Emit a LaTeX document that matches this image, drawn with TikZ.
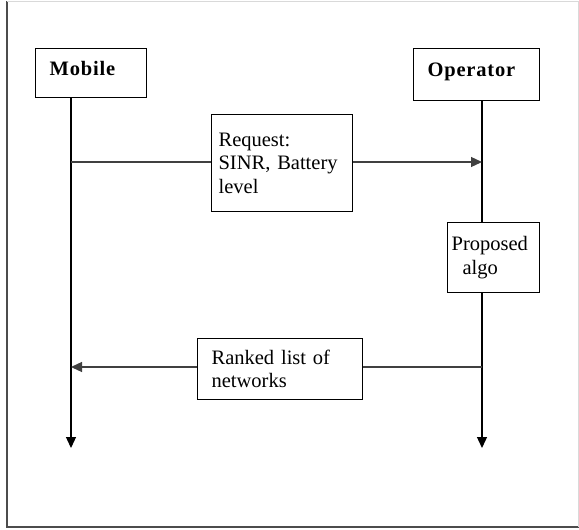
\documentclass[tikz,border=0pt]{standalone}
\usepackage{fontspec}
\setmainfont{Liberation Serif}
\usetikzlibrary{arrows.meta}
\tikzset{
  box/.style={draw,line width=1.2pt,fill=white,anchor=north west,align=left,
    inner ysep=0pt,font=\fontsize{20.5}{23.5}\selectfont},
  actor/.style={box,inner xsep=14pt,text height=14pt,text depth=10pt,
    font=\fontsize{20.5}{23.5}\selectfont\bfseries\addfontfeatures{LetterSpace=4}},
  life/.style={line width=1.3pt,-{Triangle[length=11pt,width=10pt]}},
  msg/.style={line width=1.3pt,black!75},
}
\begin{document}
\begin{tikzpicture}[x=1pt,y=-1pt]
\useasboundingbox (0,0) rectangle (579,530);
\draw[black!70,line width=1.2pt] (7,1) -- (7,527) -- (578.5,527);
\draw[black!15,line width=1pt] (7,1) -- (578.5,1) -- (578.5,527);
\node[actor,text width=83pt,minimum height=49pt] (mobile) at (35,48) {Mobile};
\node[actor,text width=98pt,minimum height=52pt] (operator) at (413,48) {Operator};
\node[box,inner xsep=7pt,text width=127pt,minimum height=97pt] (request) at (211,114)
  {Request:\\SINR, Battery\\level};
\node[box,inner xsep=4pt,text width=84pt,minimum height=70pt] (algo) at (447,222)
  {Proposed\\\hspace*{11pt}algo};
\node[box,inner xsep=14pt,text width=137pt,minimum height=61pt] (ranked) at (197,338)
  {Ranked list of\\networks};
\coordinate (mend) at (71,448);
\coordinate (oend) at (482,448);
\coordinate (mreq) at (71,162);
\coordinate (oreq) at (482,162);
\coordinate (mrank) at (71,367);
\coordinate (orank) at (482,367);
% lifelines
\draw[life] (mobile.south -| mend) -- (mend);
\draw[line width=1.3pt] (operator.south -| oend) -- (algo.north -| oend);
\draw[life] (algo.south -| oend) -- (oend);
% messages
\draw[msg] (mreq) -- (request.west |- mreq);
\draw[msg,life,black!75] (request.east |- oreq) -- (oreq);
\draw[msg] (orank) -- (ranked.east |- orank);
\draw[msg,life,black!75] (ranked.west |- mrank) -- (mrank);
\end{tikzpicture}
\end{document}
